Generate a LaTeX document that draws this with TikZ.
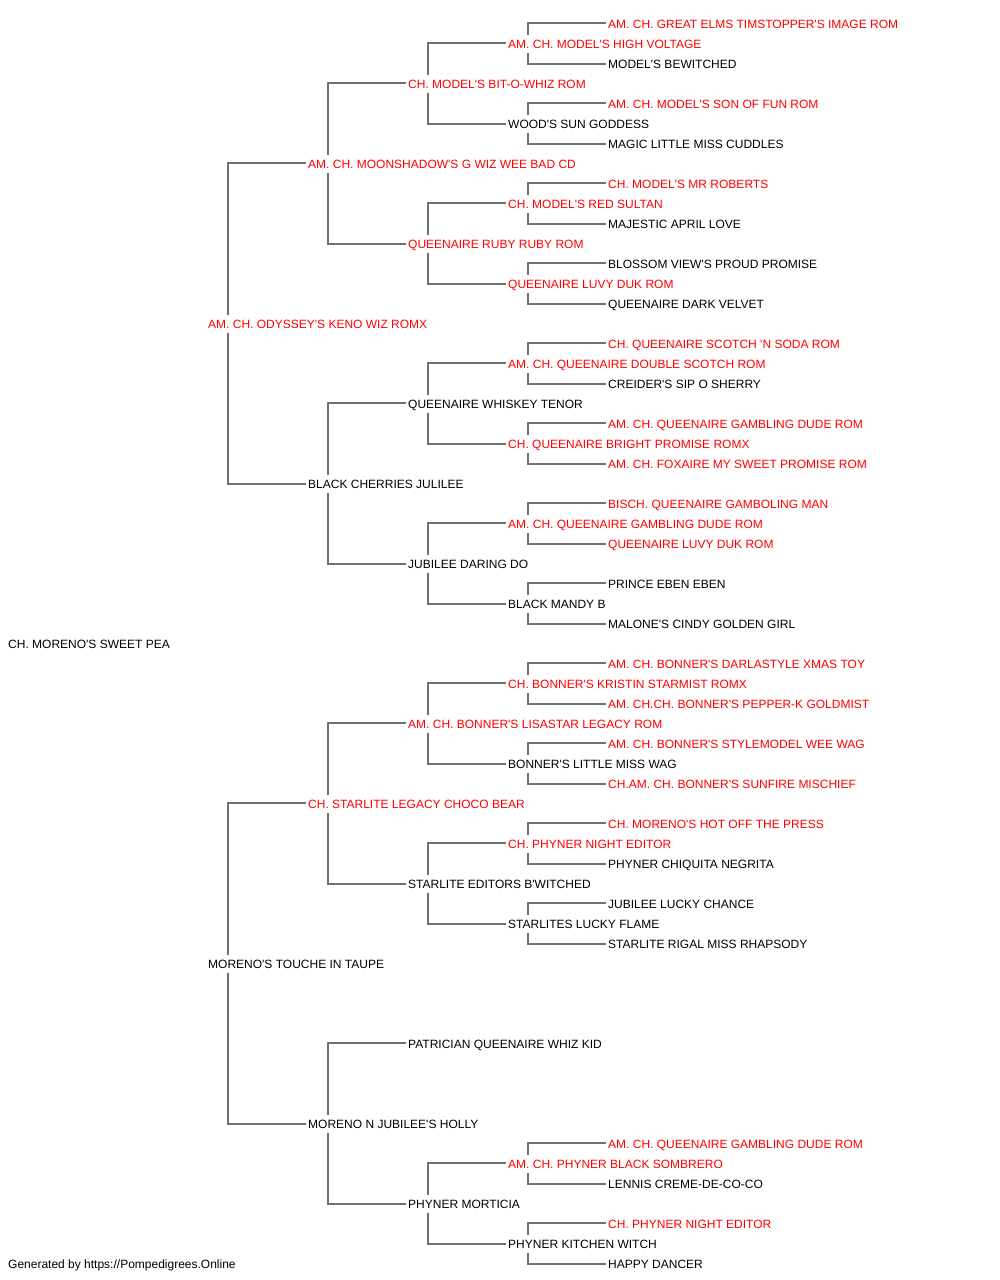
\documentclass[tikz,border=0pt]{standalone}
\usepackage{fontspec}
\setmainfont{Liberation Sans}[Ligatures=TeXOff]
\begin{document}
\begin{tikzpicture}[x=1pt,y=-1pt,
  pn/.style={anchor=west, inner xsep=2.5pt, inner ysep=0pt, text height=13.3pt, text depth=4.7pt, font=\fontsize{12}{14}\selectfont, text=black, yshift=-1pt},
  tt/.style={pn, text={rgb,255:red,255;green,0;blue,0}},
  conn/.style={draw={rgb,255:red,112;green,112;blue,112}, line width=1.3pt}]
\useasboundingbox (0,0) rectangle (1000,1280);
% root
\node[pn] (r) at (5.5,643) {CH. MORENO'S SWEET PEA};
% gen1
\node[tt] (s) at (205.5,323) {AM. CH. ODYSSEY'S KENO WIZ ROMX};
\node[pn] (d) at (205.5,963) {MORENO'S TOUCHE IN TAUPE};
% gen2
\node[tt] (ss) at (305.5,163) {AM. CH. MOONSHADOW'S G WIZ WEE BAD CD};
\node[pn] (sd) at (305.5,483) {BLACK CHERRIES JULILEE};
\node[tt] (ds) at (305.5,803) {CH. STARLITE LEGACY CHOCO BEAR};
\node[pn] (dd) at (305.5,1123) {MORENO N JUBILEE'S HOLLY};
% gen3
\node[tt] (sss) at (405.5,83) {CH. MODEL'S BIT-O-WHIZ ROM};
\node[tt] (ssd) at (405.5,243) {QUEENAIRE RUBY RUBY ROM};
\node[pn] (sds) at (405.5,403) {QUEENAIRE WHISKEY TENOR};
\node[pn] (sdd) at (405.5,563) {JUBILEE DARING DO};
\node[tt] (dss) at (405.5,723) {AM. CH. BONNER'S LISASTAR LEGACY ROM};
\node[pn] (dsd) at (405.5,883) {STARLITE EDITORS B'WITCHED};
\node[pn] (dds) at (405.5,1043) {PATRICIAN QUEENAIRE WHIZ KID};
\node[pn] (ddd) at (405.5,1203) {PHYNER MORTICIA};
% gen4
\node[tt] (ssss) at (505.5,43) {AM. CH. MODEL'S HIGH VOLTAGE};
\node[pn] (sssd) at (505.5,123) {WOOD'S SUN GODDESS};
\node[tt] (ssds) at (505.5,203) {CH. MODEL'S RED SULTAN};
\node[tt] (ssdd) at (505.5,283) {QUEENAIRE LUVY DUK ROM};
\node[tt] (sdss) at (505.5,363) {AM. CH. QUEENAIRE DOUBLE SCOTCH ROM};
\node[tt] (sdsd) at (505.5,443) {CH. QUEENAIRE BRIGHT PROMISE ROMX};
\node[tt] (sdds) at (505.5,523) {AM. CH. QUEENAIRE GAMBLING DUDE ROM};
\node[pn] (sddd) at (505.5,603) {BLACK MANDY B};
\node[tt] (dsss) at (505.5,683) {CH. BONNER'S KRISTIN STARMIST ROMX};
\node[pn] (dssd) at (505.5,763) {BONNER'S LITTLE MISS WAG};
\node[tt] (dsds) at (505.5,843) {CH. PHYNER NIGHT EDITOR};
\node[pn] (dsdd) at (505.5,923) {STARLITES LUCKY FLAME};
\node[tt] (ddds) at (505.5,1163) {AM. CH. PHYNER BLACK SOMBRERO};
\node[pn] (dddd) at (505.5,1243) {PHYNER KITCHEN WITCH};
% gen5
\node[tt] (sssss) at (605.5,23) {AM. CH. GREAT ELMS TIMSTOPPER'S IMAGE ROM};
\node[pn] (ssssd) at (605.5,63) {MODEL'S BEWITCHED};
\node[tt] (sssds) at (605.5,103) {AM. CH. MODEL'S SON OF FUN ROM};
\node[pn] (sssdd) at (605.5,143) {MAGIC LITTLE MISS CUDDLES};
\node[tt] (ssdss) at (605.5,183) {CH. MODEL'S MR ROBERTS};
\node[pn] (ssdsd) at (605.5,223) {MAJESTIC APRIL LOVE};
\node[pn] (ssdds) at (605.5,263) {BLOSSOM VIEW'S PROUD PROMISE};
\node[pn] (ssddd) at (605.5,303) {QUEENAIRE DARK VELVET};
\node[tt] (sdsss) at (605.5,343) {CH. QUEENAIRE SCOTCH 'N SODA ROM};
\node[pn] (sdssd) at (605.5,383) {CREIDER'S SIP O SHERRY};
\node[tt] (sdsds) at (605.5,423) {AM. CH. QUEENAIRE GAMBLING DUDE ROM};
\node[tt] (sdsdd) at (605.5,463) {AM. CH. FOXAIRE MY SWEET PROMISE ROM};
\node[tt] (sddss) at (605.5,503) {BISCH. QUEENAIRE GAMBOLING MAN};
\node[tt] (sddsd) at (605.5,543) {QUEENAIRE LUVY DUK ROM};
\node[pn] (sddds) at (605.5,583) {PRINCE EBEN EBEN};
\node[pn] (sdddd) at (605.5,623) {MALONE'S CINDY GOLDEN GIRL};
\node[tt] (dssss) at (605.5,663) {AM. CH. BONNER'S DARLASTYLE XMAS TOY};
\node[tt] (dsssd) at (605.5,703) {AM. CH.CH. BONNER'S PEPPER-K GOLDMIST};
\node[tt] (dssds) at (605.5,743) {AM. CH. BONNER'S STYLEMODEL WEE WAG};
\node[tt] (dssdd) at (605.5,783) {CH.AM. CH. BONNER'S SUNFIRE MISCHIEF};
\node[tt] (dsdss) at (605.5,823) {CH. MORENO'S HOT OFF THE PRESS};
\node[pn] (dsdsd) at (605.5,863) {PHYNER CHIQUITA NEGRITA};
\node[pn] (dsdds) at (605.5,903) {JUBILEE LUCKY CHANCE};
\node[pn] (dsddd) at (605.5,943) {STARLITE RIGAL MISS RHAPSODY};
\node[tt] (dddss) at (605.5,1143) {AM. CH. QUEENAIRE GAMBLING DUDE ROM};
\node[pn] (dddsd) at (605.5,1183) {LENNIS CREME-DE-CO-CO};
\node[tt] (dddds) at (605.5,1223) {CH. PHYNER NIGHT EDITOR};
\node[pn] (ddddd) at (605.5,1263) {HAPPY DANCER};
% footer
\node[pn] (foot) at (5.5,1263) {Generated by https://Pompedigrees.Online};
% connectors
\foreach \p/\a/\b in {s/ss/sd, d/ds/dd,
  ss/sss/ssd, sd/sds/sdd, ds/dss/dsd, dd/dds/ddd,
  sss/ssss/sssd, ssd/ssds/ssdd, sds/sdss/sdsd, sdd/sdds/sddd,
  dss/dsss/dssd, dsd/dsds/dsdd, ddd/ddds/dddd,
  ssss/sssss/ssssd, sssd/sssds/sssdd, ssds/ssdss/ssdsd, ssdd/ssdds/ssddd,
  sdss/sdsss/sdssd, sdsd/sdsds/sdsdd, sdds/sddss/sddsd, sddd/sddds/sdddd,
  dsss/dssss/dsssd, dssd/dssds/dssdd, dsds/dsdss/dsdsd, dsdd/dsdds/dsddd,
  ddds/dddss/dddsd, dddd/dddds/ddddd}{
  \draw[conn] ([xshift=22.5pt]\p.north west) |- ([yshift=1pt]\a.west);
  \draw[conn] ([xshift=22.5pt]\p.south west) |- (\b.west);
}
\end{tikzpicture}
\end{document}
